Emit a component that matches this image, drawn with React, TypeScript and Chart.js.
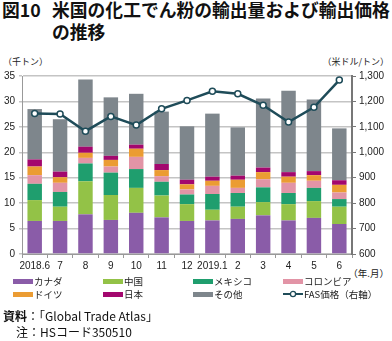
import React, { useEffect, useRef } from "react";
import { Chart, registerables } from "chart.js";

Chart.register(...registerables);

const months = ["2018.6", "7", "8", "9", "10", "11", "12", "2019.1", "2", "3", "4", "5", "6"];
const canada = [6.5, 6.5, 7.8, 6.7, 8.1, 7.2, 6.5, 6.6, 6.9, 7.6, 6.6, 7.1, 5.9];
const china = [4.1, 2.8, 6.5, 4.9, 4.9, 4.3, 3.3, 2.1, 2.4, 2.6, 3.2, 3.3, 3.4];
const mexico = [3.2, 2.9, 3.5, 4.4, 3.7, 2.7, 1.9, 3.1, 2.7, 2.9, 2.2, 2.6, 1.5];
const colombia = [1.7, 1.8, 1.1, 1.2, 2.4, 1.1, 1.0, 1.6, 1.0, 1.6, 2.0, 1.4, 1.3];
const germany = [1.7, 1.1, 1.0, 1.3, 1.6, 1.2, 1.0, 1.0, 1.6, 1.4, 1.2, 1.1, 1.5];
const japan = [1.4, 1.1, 1.2, 0.8, 0.8, 1.2, 0.9, 0.8, 0.8, 0.9, 0.9, 0.8, 0.9];
const others = [9.9, 10.3, 13.2, 11.5, 10.0, 10.3, 10.5, 12.4, 9.5, 13.6, 16.0, 14.1, 10.2];
const fasPrice = [1153, 1151, 1083, 1141, 1107, 1171, 1204, 1240, 1230, 1185, 1119, 1177, 1284];

const seriesNames = ["カナダ", "中国", "メキシコ", "コロンビア", "ドイツ", "日本", "その他"];
const seriesColors = ["#8a5ca8", "#93c247", "#1f9e6e", "#e294a6", "#eb9c33", "#a3076e", "#7e868c"];
const lineName = "FAS価格（右軸）";
const lineColor = "#1f4c59";

const FONT = "'Liberation Sans', 'Noto Sans CJK JP', sans-serif";
const JFONT = "'Noto Sans CJK JP', sans-serif";

export default function App() {
  const ref = useRef<HTMLCanvasElement>(null);
  useEffect(() => {
    const values = [canada, china, mexico, colombia, germany, japan, others];
    const chart = new Chart(ref.current!, {
      type: "bar",
      data: {
        labels: months,
        datasets: [
          {
            type: "line",
            label: lineName,
            data: fasPrice,
            yAxisID: "y1",
            borderColor: lineColor,
            borderWidth: 2.5,
            pointRadius: 3,
            pointBorderWidth: 1.5,
            pointBackgroundColor: "#ffffff",
            pointBorderColor: lineColor,
            order: 0,
          } as any,
          ...values.map((v, i) => ({
            type: "bar",
            label: seriesNames[i],
            data: v,
            backgroundColor: seriesColors[i],
            yAxisID: "y",
            stack: "s",
            order: 1,
            categoryPercentage: 1,
            barPercentage: 0.57,
          })),
        ],
      },
      options: {
        responsive: false,
        animation: false,
        layout: { padding: { top: 76, left: 0, right: 0, bottom: 0 } },
        plugins: { legend: { display: false }, tooltip: { enabled: false } },
        scales: {
          x: {
            stacked: true,
            grid: { offset: true, drawOnChartArea: false, tickLength: 4, color: "#999" },
            border: { color: "#999", width: 1 },
            ticks: { font: { size: 10, family: FONT }, color: "#222", padding: 2, maxRotation: 0, autoSkip: false },
            afterFit: (s: any) => { s.height = 87; },
          },
          y: {
            stacked: true,
            position: "left",
            min: 0,
            max: 35,
            ticks: { stepSize: 5, font: { size: 10, family: FONT }, color: "#222", padding: 4 },
            grid: { color: "#c4c4c4", lineWidth: 1.5, tickLength: 3 },
            border: { color: "#999", width: 1 },
            afterFit: (s: any) => { s.width = 22; },
          },
          y1: {
            position: "right",
            min: 600,
            max: 1300,
            ticks: {
              stepSize: 100,
              font: { size: 10, family: FONT },
              color: "#222",
              padding: 3,
              callback: (v: any) => Number(v).toLocaleString("en-US"),
            },
            grid: { drawOnChartArea: false, tickLength: 4, color: "#777" },
            border: { color: "#777", width: 2 },
            afterFit: (s: any) => { s.width = 40; },
          },
        },
      },
    });
    return () => chart.destroy();
  }, []);

  const legendItems = [
    ...seriesNames.map((n, i) => ({ n, c: seriesColors[i], line: false })),
    { n: lineName, c: lineColor, line: true },
  ];
  const colX = [13, 103, 193, 283];
  const rowY = [275, 288];

  return (
    <div style={{ position: "absolute", left: 0, top: 0, width: 392, height: 341, background: "#fff", overflow: "hidden", fontFamily: JFONT }}>
      <div style={{ position: "absolute", left: 2, top: -2, fontSize: 17.8, fontWeight: 700, lineHeight: "22px", color: "#111", whiteSpace: "nowrap" }}>
        図10
      </div>
      <div style={{ position: "absolute", left: 52, top: -2, fontSize: 17.8, fontWeight: 700, lineHeight: "22px", color: "#111", whiteSpace: "nowrap" }}>
        米国の化工でん粉の輸出量および輸出価格<br />の推移
      </div>
      <div style={{ position: "absolute", left: 3, top: 55, fontSize: 9, color: "#222", whiteSpace: "nowrap" }}>（千トン）</div>
      <div style={{ position: "absolute", right: 3, top: 55, fontSize: 9, color: "#222", whiteSpace: "nowrap" }}>（米ドル/トン）</div>
      <div style={{ position: "absolute", right: 3, top: 266, fontSize: 9.5, color: "#222", whiteSpace: "nowrap" }}>（年.月）</div>
      <canvas ref={ref} width={392} height={341} style={{ position: "absolute", left: 0, top: 0, width: 392, height: 341 }} />
      {legendItems.map((it, i) => (
        <div key={i} style={{ position: "absolute", left: colX[i % 4], top: rowY[Math.floor(i / 4)], height: 12, display: "flex", alignItems: "center", fontSize: 9.5, color: "#222", whiteSpace: "nowrap" }}>
          {it.line ? (
            <svg width={20} height={8} style={{ marginRight: 1 }}>
              <line x1={0} y1={4} x2={20} y2={4} stroke={it.c} strokeWidth={2} />
              <circle cx={10} cy={4} r={2.6} fill="#fff" stroke={it.c} strokeWidth={1.3} />
            </svg>
          ) : (
            <span style={{ display: "inline-block", width: 20, height: 5, background: it.c, marginRight: 1 }} />
          )}
          {it.n}
        </div>
      ))}
      <div style={{ position: "absolute", left: 3, top: 307, fontSize: 12, color: "#111", whiteSpace: "nowrap" }}>
        <b>資料</b>：「Global Trade Atlas」
      </div>
      <div style={{ position: "absolute", left: 16, top: 323, fontSize: 12, color: "#111", whiteSpace: "nowrap" }}>
        注：HSコード350510
      </div>
    </div>
  );
}
